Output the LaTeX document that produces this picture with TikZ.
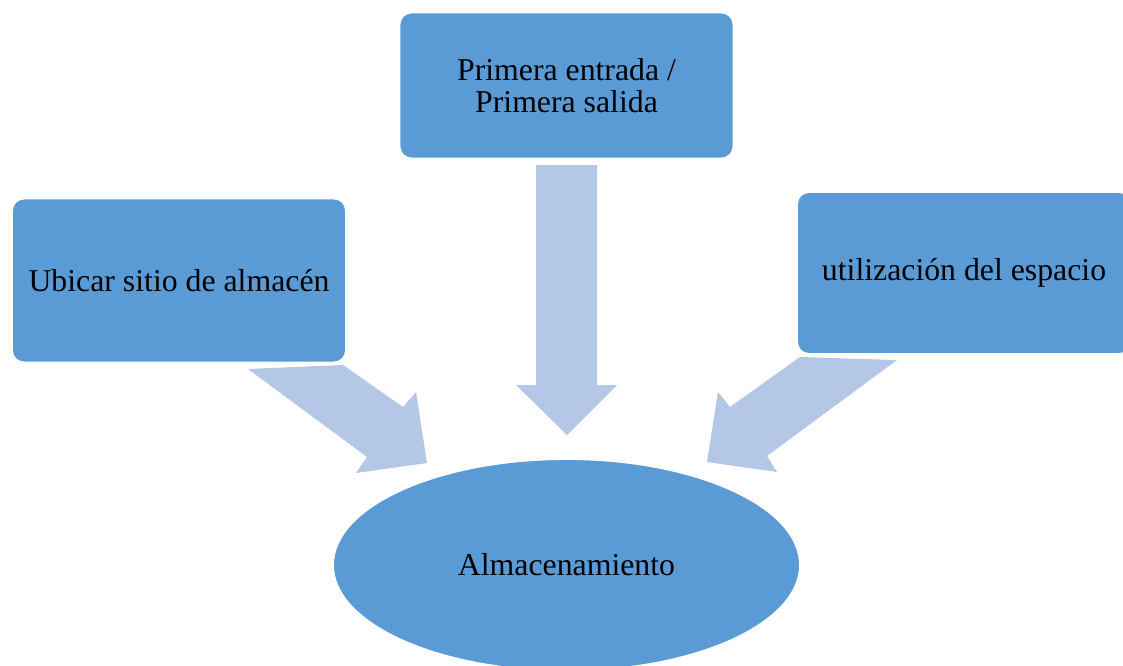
\documentclass[tikz,border=0pt]{standalone}
\usepackage{fontspec}
\setmainfont{Liberation Serif}
\usetikzlibrary{shapes.geometric}
\definecolor{boxblue}{HTML}{5B9BD5}
\definecolor{arrowblue}{HTML}{B4C7E7}
\begin{document}
\begin{tikzpicture}[x=0.025cm, y=-0.025cm,
  box/.style={rectangle, rounded corners=0.3cm, fill=boxblue, draw=white,
    line width=1.4pt, minimum width=8.35cm, align=center,
    font=\fontsize{22.6}{22.8}\selectfont},
  oval/.style={ellipse, fill=boxblue, draw=white, line width=1.4pt,
    minimum width=11.675cm, minimum height=5.3cm,
    font=\fontsize{22.6}{22.8}\selectfont},
  bigarrow/.style={fill=arrowblue}]
  \useasboundingbox (0,0) rectangle (1123,665);
  \clip (0,0) rectangle (1123,665);

  % Flechas
  \fill[bigarrow] (536,165) -- (597,165) -- (597,385) -- (617,385)
    -- (567,435) -- (516,385) -- (536,385) -- cycle;
  \fill[bigarrow] (248,369) -- (343,365) -- (403,407) -- (416,392)
    -- (427,463) -- (356,473) -- (367,457) -- cycle;
  \fill[bigarrow] (897,360) -- (800,357) -- (730,407) -- (718,392)
    -- (707,462) -- (777,472) -- (767,456) -- cycle;

  % Cajas
  \node[box, minimum height=3.65cm] (fifo) at (566.5,85.5)
    {Primera entrada /\\Primera salida};
  \node[box, minimum height=4.1cm] (ubicar) at (179,280.5)
    {Ubicar sitio de almacén};
  \node[box, minimum height=4.05cm] (espacio) at (964,273)
    {utilización del espacio};

  % Almacenamiento
  \node[oval] (almacen) at (566.5,565) {Almacenamiento};
\end{tikzpicture}
\end{document}
